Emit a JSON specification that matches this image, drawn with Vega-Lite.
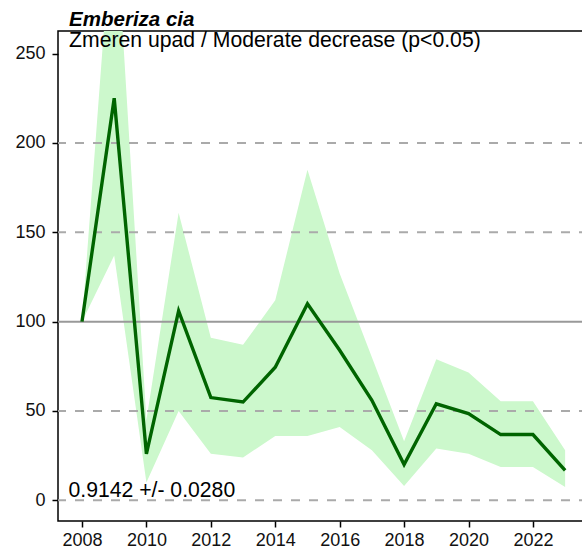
{
  "$schema": "https://vega.github.io/schema/vega-lite/v6.json",
  "autosize": {"type": "none"},
  "padding": {"left": 58, "top": 31, "right": 0, "bottom": 35},
  "width": 530,
  "height": 490,
  "background": "white",
  "config": {
    "view": {"stroke": "#000", "strokeWidth": 1.5},
    "font": "Liberation Sans"
  },
  "data": {"values": [
    {"year": 2008, "index": 100, "lower": 100, "upper": 100},
    {"year": 2009, "index": 225, "lower": 137, "upper": 340},
    {"year": 2010, "index": 26, "lower": 10, "upper": 45},
    {"year": 2011, "index": 106, "lower": 50, "upper": 161},
    {"year": 2012, "index": 57.5, "lower": 26, "upper": 91},
    {"year": 2013, "index": 55, "lower": 24, "upper": 87},
    {"year": 2014, "index": 74.5, "lower": 36, "upper": 112},
    {"year": 2015, "index": 110, "lower": 36, "upper": 185},
    {"year": 2016, "index": 84, "lower": 41, "upper": 127},
    {"year": 2017, "index": 56, "lower": 28, "upper": 80},
    {"year": 2018, "index": 20, "lower": 8, "upper": 33},
    {"year": 2019, "index": 54, "lower": 29, "upper": 79},
    {"year": 2020, "index": 48.5, "lower": 26, "upper": 71.5},
    {"year": 2021, "index": 36.8, "lower": 18.6, "upper": 55.5},
    {"year": 2022, "index": 36.8, "lower": 18.6, "upper": 55.5},
    {"year": 2023, "index": 16.7, "lower": 7.4, "upper": 28}
  ]},
  "layer": [
    {
      "mark": {"type": "area", "color": "#ccf8cc", "opacity": 1, "clip": true},
      "encoding": {
        "x": {"field": "year", "type": "quantitative", "scale": {"domain": [2007.255, 2023.71], "nice": false, "zero": false},
          "axis": {"title": null, "values": [2008,2009,2010,2011,2012,2013,2014,2015,2016,2017,2018,2019,2020,2021,2022,2023], "labelExpr": "datum.value % 2 == 0 ? datum.value : ''", "format": "d", "grid": false, "domain": false, "tickColor": "#000", "tickSize": 6, "tickWidth": 1.5, "labelFontSize": 18, "labelColor": "#111", "labelPadding": 4, "labelFont": "Liberation Sans"}},
        "y": {"field": "lower", "type": "quantitative", "scale": {"domain": [-11.58, 262.65], "nice": false, "zero": false},
          "axis": {"title": null, "values": [0,50,100,150,200,250], "grid": false, "domain": false, "tickColor": "#000", "tickSize": 6, "tickWidth": 1.5, "labelFontSize": 18, "labelColor": "#111", "labelPadding": 7, "labelFont": "Liberation Sans"}},
        "y2": {"field": "upper"}
      }
    },
    {
      "data": {"values": [{"g": 0}, {"g": 50}, {"g": 150}, {"g": 200}]},
      "mark": {"type": "rule", "color": "#aaaaaa", "strokeWidth": 2, "strokeDash": [9, 9]},
      "encoding": {"y": {"field": "g", "type": "quantitative"}}
    },
    {
      "data": {"values": [{"g": 100}]},
      "mark": {"type": "rule", "color": "#999999", "strokeWidth": 2},
      "encoding": {"y": {"field": "g", "type": "quantitative"}}
    },
    {
      "mark": {"type": "line", "color": "#006400", "strokeWidth": 3.4, "clip": true},
      "encoding": {
        "x": {"field": "year", "type": "quantitative"},
        "y": {"field": "index", "type": "quantitative"}
      }
    },
    {
      "data": {"values": [{"label": "Emberiza cia"}]},
      "mark": {"type": "text", "align": "left", "baseline": "alphabetic", "fontSize": 20.5, "fontWeight": "bold", "fontStyle": "italic", "font": "Liberation Sans", "color": "#000"},
      "encoding": {
        "x": {"datum": 2007.6, "type": "quantitative"},
        "y": {"datum": 265.45, "type": "quantitative"},
        "text": {"field": "label"}
      }
    },
    {
      "data": {"values": [{"label": "Zmeren upad / Moderate decrease (p<0.05)"}]},
      "mark": {"type": "text", "align": "left", "baseline": "alphabetic", "fontSize": 21.2, "font": "Liberation Sans", "color": "#000"},
      "encoding": {
        "x": {"datum": 2007.6, "type": "quantitative"},
        "y": {"datum": 253.6, "type": "quantitative"},
        "text": {"field": "label"}
      }
    },
    {
      "data": {"values": [{"label": "0.9142 +/- 0.0280"}]},
      "mark": {"type": "text", "align": "left", "baseline": "alphabetic", "fontSize": 21.2, "font": "Liberation Sans", "color": "#000"},
      "encoding": {
        "x": {"datum": 2007.58, "type": "quantitative"},
        "y": {"datum": 1.85, "type": "quantitative"},
        "text": {"field": "label"}
      }
    }
  ]
}
